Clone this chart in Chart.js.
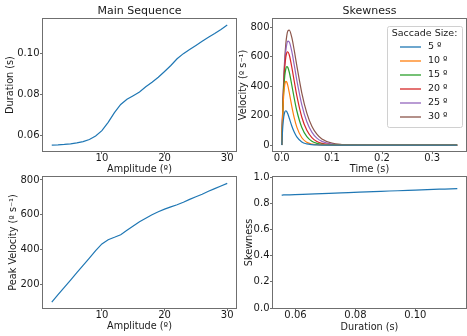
<!DOCTYPE html>
<html>
<head>
<meta charset="utf-8">
<script src="https://cdn.jsdelivr.net/npm/chart.js@4"></script>
<style>
  html, body { margin: 0; padding: 0; background: #fff; }
  #wrap { position: relative; width: 467px; height: 336px; }
  #wrap canvas { position: absolute; left: 0; top: 0; }
</style>
</head>
<body>
<div id="wrap">
  <canvas id="main-sequence" width="467" height="336"></canvas>
  <canvas id="skewness-profile" width="467" height="336"></canvas>
  <canvas id="peak-velocity" width="467" height="336"></canvas>
  <canvas id="skewness-duration" width="467" height="336"></canvas>
</div>
<script>
// --< Data >--
const amplitudes = [2, 3, 4, 5, 6, 7, 8, 9, 10, 11, 12, 13, 14, 15, 16, 17, 18, 19, 20, 21, 22, 23, 24, 25, 26, 27, 28, 29, 30];
const durations = [0.0554, 0.0555, 0.0557, 0.0560, 0.0565, 0.0571, 0.0581, 0.0598, 0.0624, 0.0665, 0.0712, 0.0752, 0.0777, 0.0795,
  0.0813, 0.0838, 0.0860, 0.0885, 0.0913, 0.0942, 0.0975, 0.1000, 0.1020, 0.1040, 0.1060, 0.1080, 0.1098, 0.1118, 0.1140];
const peakVelocities = [97, 140, 182, 224, 266, 308, 350, 393, 432, 456, 470, 485, 510, 535, 560, 580, 600, 617, 632, 645, 657,
  672, 688, 703, 718, 735, 750, 765, 780];
const skewness = [0.862, 0.862, 0.862, 0.863, 0.863, 0.863, 0.864, 0.866, 0.868, 0.871, 0.875, 0.879, 0.881, 0.883, 0.884,
  0.886, 0.888, 0.890, 0.893, 0.895, 0.898, 0.900, 0.902, 0.903, 0.905, 0.907, 0.908, 0.910, 0.912];

const saccadeSizes = [5, 10, 15, 20, 25, 30];
const profileTime = [0, 0.002, 0.004, 0.006, 0.008, 0.010, 0.012, 0.015, 0.02, 0.025, 0.03, 0.04, 0.05, 0.06, 0.07, 0.08,
  0.10, 0.12, 0.15, 0.20, 0.25, 0.30, 0.35];
const velocity5 = [0, 123, 192, 224, 233, 227, 212, 182, 130, 87, 56, 21, 8, 3, 1, 0, 0, 0, 0, 0, 0, 0, 0];
const velocity10 = [0, 219, 346, 410, 432, 427, 405, 355, 263, 183, 122, 50, 19, 7, 3, 1, 0, 0, 0, 0, 0, 0, 0];
const velocity15 = [0, 230, 380, 470, 516, 532, 527, 494, 407, 315, 233, 119, 57, 26, 12, 5, 1, 0, 0, 0, 0, 0, 0];
const velocity20 = [0, 249, 420, 531, 595, 626, 633, 611, 529, 430, 335, 189, 100, 51, 25, 12, 3, 1, 0, 0, 0, 0, 0];
const velocity25 = [0, 254, 435, 559, 639, 685, 705, 699, 635, 540, 441, 273, 158, 88, 47, 25, 7, 2, 0, 0, 0, 0, 0];
const velocity30 = [0, 262, 454, 591, 684, 742, 773, 780, 730, 640, 539, 353, 217, 128, 74, 41, 13, 4, 1, 0, 0, 0, 0];
const velocities = [velocity5, velocity10, velocity15, velocity20, velocity25, velocity30];

const amplitudeTicks = [10, 20, 30];
const durationTicks = [0.06, 0.08, 0.10];
const timeTicks = [0.0, 0.1, 0.2, 0.3];
const velocityTicks = [0, 200, 400, 600, 800];
const peakVelocityTicks = [200, 400, 600, 800];
const skewnessTicks = [0.0, 0.2, 0.4, 0.6, 0.8, 1.0];
// --</ Data >--

const W = 467, H = 336;
const colors = ['#1f77b4', '#ff7f0e', '#2ca02c', '#d62728', '#9467bd', '#8c564b'];
const spine = '#6f6f6f';
const ink = '#1a1a1a';
const labelSize = 9.7;
const tickSize = 10;
const half = labelSize * 1.2 / 2;

Chart.defaults.font.family = "'DejaVu Sans', sans-serif";
Chart.defaults.font.size = labelSize;
Chart.defaults.color = ink;

const framePlugin = {
  id: 'frame',
  afterDatasetsDraw(chart) {
    const { ctx, chartArea: a } = chart;
    ctx.save();
    ctx.strokeStyle = spine;
    ctx.lineWidth = 1;
    ctx.strokeRect(Math.round(a.left) - 0.5, Math.round(a.top) - 0.5, Math.round(a.right - a.left) + 1, Math.round(a.bottom - a.top) + 1);
    ctx.restore();
  }
};

const saccadeLegend = {
  id: 'saccadeLegend',
  afterDraw(chart) {
    const { ctx, chartArea: a } = chart;
    const w = 75, h = 101;
    const x = a.right - 4 - w, y = a.top + 7;
    ctx.save();
    ctx.beginPath();
    ctx.roundRect(x + 0.5, y + 0.5, w, h, 2);
    ctx.fillStyle = 'rgba(255,255,255,0.8)';
    ctx.fill();
    ctx.strokeStyle = '#d0d0d0';
    ctx.lineWidth = 1;
    ctx.stroke();
    ctx.font = "9.5px 'DejaVu Sans'";
    ctx.fillStyle = ink;
    ctx.textBaseline = 'middle';
    ctx.textAlign = 'center';
    ctx.fillText('Saccade Size:', x + w / 2, y + 7.5);
    ctx.textAlign = 'left';
    saccadeSizes.forEach((s, i) => {
      const ly = y + 21 + i * 14;
      ctx.strokeStyle = colors[i];
      ctx.lineWidth = 1.3;
      ctx.beginPath();
      ctx.moveTo(x + 13, ly);
      ctx.lineTo(x + 34, ly);
      ctx.stroke();
      ctx.fillText(`${s} º`, x + 41, ly);
    });
    ctx.restore();
  }
};

function axis(range, tickValues, digits, title, fit, pad) {
  return {
    type: 'linear',
    min: range[0],
    max: range[1],
    afterBuildTicks: (scale) => { scale.ticks = tickValues.map(v => ({ value: v })); },
    afterFit: fit,
    ticks: {
      callback: (v) => digits === undefined ? String(v) : Number(v).toFixed(digits),
      font: { size: tickSize },
      padding: pad, maxRotation: 0, autoSkip: false
    },
    grid: { display: true, drawOnChartArea: false, drawTicks: true, tickLength: 3, color: spine },
    border: { display: false },
    title: { display: true, text: title, padding: 0, font: { size: labelSize, lineHeight: 1.2 } }
  };
}

// area: plot rectangle, xTitleY / yTitleX: centre of the axis titles
function makePanel(id, cfg) {
  const { area, xTitleY, yTitleX } = cfg;
  const xFit = (scale) => { scale.height = xTitleY + half - area.b; scale.paddingLeft = 0; scale.paddingRight = 0; };
  const yFit = (scale) => { scale.width = area.l - (yTitleX - half); scale.paddingTop = 0; scale.paddingBottom = 0; };
  const titleH = cfg.title ? 15 : 0;

  return new Chart(document.getElementById(id), {
    type: 'line',
    data: { datasets: cfg.datasets },
    options: {
      responsive: false,
      animation: false,
      devicePixelRatio: 1,
      layout: {
        padding: { left: yTitleX - half, top: area.t - titleH, right: W - area.r, bottom: H - (xTitleY + half) }
      },
      elements: { point: { radius: 0 }, line: { borderWidth: 1.2 } },
      scales: {
        x: axis(cfg.xRange, cfg.xTicks, cfg.xDigits, cfg.xTitle, xFit, -1.5),
        y: axis(cfg.yRange, cfg.yTicks, cfg.yDigits, cfg.yTitle, yFit, 0.5)
      },
      plugins: {
        legend: { display: false },
        tooltip: { enabled: false },
        title: cfg.title
          ? { display: true, text: cfg.title, fullSize: false, padding: 0, font: { size: 11, weight: 'normal', lineHeight: '15px' }, color: ink }
          : { display: false }
      }
    },
    plugins: [framePlugin].concat(cfg.extra || [])
  });
}

function series(xs, ys, color) {
  return { data: xs.map((x, i) => ({ x, y: ys[i] })), borderColor: color, fill: false };
}

// --< Main Sequence >--
makePanel('main-sequence', {
  area: { l: 43, t: 19, r: 236, b: 151 },
  xTitleY: 169, yTitleX: 10.5,
  title: 'Main Sequence',
  xRange: [0.6, 31.4], xTicks: amplitudeTicks, xTitle: 'Amplitude (º)',
  yRange: [0.0525, 0.1169], yTicks: durationTicks, yDigits: 2, yTitle: 'Duration (s)',
  datasets: [series(amplitudes, durations, colors[0])]
});

// --< Skewness profiles >--
makePanel('skewness-profile', {
  area: { l: 273, t: 19, r: 466, b: 151 },
  xTitleY: 169.5, yTitleX: 243.5,
  title: 'Skewness',
  xRange: [-0.0175, 0.3675], xTicks: timeTicks, xDigits: 1, xTitle: 'Time (s)',
  yRange: [-40, 855], yTicks: velocityTicks, yTitle: 'Velocity (º s⁻¹)',
  datasets: velocities.map((v, i) => Object.assign(series(profileTime, v, colors[i]), { cubicInterpolationMode: 'monotone' })),
  extra: [saccadeLegend]
});

// --< Peak Velocity >--
makePanel('peak-velocity', {
  area: { l: 43, t: 177, r: 236, b: 308 },
  xTitleY: 326.5, yTitleX: 13.8,
  xRange: [0.6, 31.4], xTicks: amplitudeTicks, xTitle: 'Amplitude (º)',
  yRange: [63, 817], yTicks: peakVelocityTicks, yTitle: 'Peak Velocity (º s⁻¹)',
  datasets: [series(amplitudes, peakVelocities, colors[0])]
});

// --< Skewness vs Duration >--
makePanel('skewness-duration', {
  area: { l: 273, t: 177, r: 466, b: 308 },
  xTitleY: 327, yTitleX: 249,
  xRange: [0.0525, 0.1169], xTicks: durationTicks, xDigits: 2, xTitle: 'Duration (s)',
  yRange: [0, 1], yTicks: skewnessTicks, yDigits: 1, yTitle: 'Skewness',
  datasets: [series(durations, skewness, colors[0])]
});
</script>
</body>
</html>
